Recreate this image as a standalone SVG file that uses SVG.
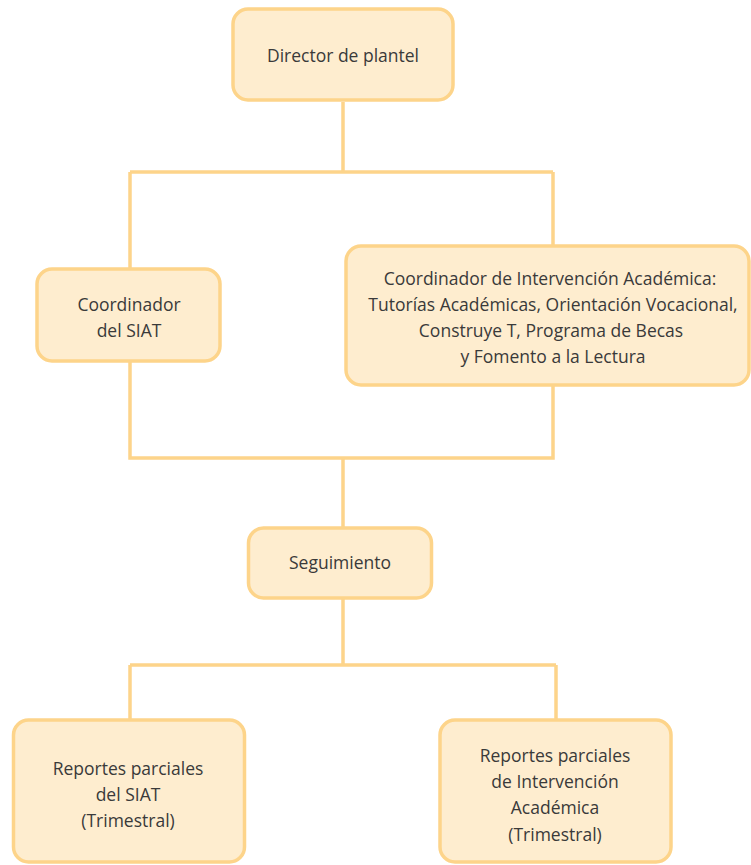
<svg xmlns="http://www.w3.org/2000/svg" width="751" height="865" viewBox="0 0 751 865">
<style>
.box{fill:#FEEDCF;stroke:#FDD48A;stroke-width:3.5}
.ln{fill:none;stroke:#FDD48A;stroke-width:3.5}
text{font-family:"Open Sans","Noto Sans","Liberation Sans",sans-serif;font-size:17.5px;fill:#3a3a3a;text-anchor:middle}
</style>
<rect width="751" height="865" fill="#ffffff"/>
<g id="connectors">
<path class="ln" d="M343 102V172M130 172H553M130 172V268M553 172V245"/>
<path class="ln" d="M130 362V458H553V386M343 458V527"/>
<path class="ln" d="M343 599V665M130 665H556M130 665V719M556 665V719"/>
</g>
<g id="director">
<rect class="box" x="233" y="9" width="220" height="91" rx="15"/>
<text x="343" y="62">Director de plantel</text>
</g>
<g id="coord-siat">
<rect class="box" x="37" y="269" width="183" height="92" rx="15"/>
<text x="129" y="311">Coordinador</text>
<text x="129" y="337">del SIAT</text>
</g>
<g id="coord-intervencion">
<rect class="box" x="346" y="246" width="403" height="139" rx="15"/>
<text x="550" y="285">Coordinador de Intervención Académica:</text>
<text x="553" y="311">Tutorías Académicas, Orientación Vocacional,</text>
<text x="551" y="337">Construye T, Programa de Becas</text>
<text x="553" y="363">y Fomento a la Lectura</text>
</g>
<g id="seguimiento">
<rect class="box" x="248.5" y="528" width="183" height="70" rx="15"/>
<text x="340" y="569">Seguimiento</text>
</g>
<g id="reportes-siat">
<rect class="box" x="13.5" y="720" width="231" height="142" rx="15"/>
<text x="128" y="775">Reportes parciales</text>
<text x="128" y="801">del SIAT</text>
<text x="128" y="827">(Trimestral)</text>
</g>
<g id="reportes-intervencion">
<rect class="box" x="440" y="720" width="231" height="142" rx="15"/>
<text x="555" y="762">Reportes parciales</text>
<text x="555" y="788">de Intervención</text>
<text x="555" y="814">Académica</text>
<text x="555" y="841">(Trimestral)</text>
</g>
</svg>
